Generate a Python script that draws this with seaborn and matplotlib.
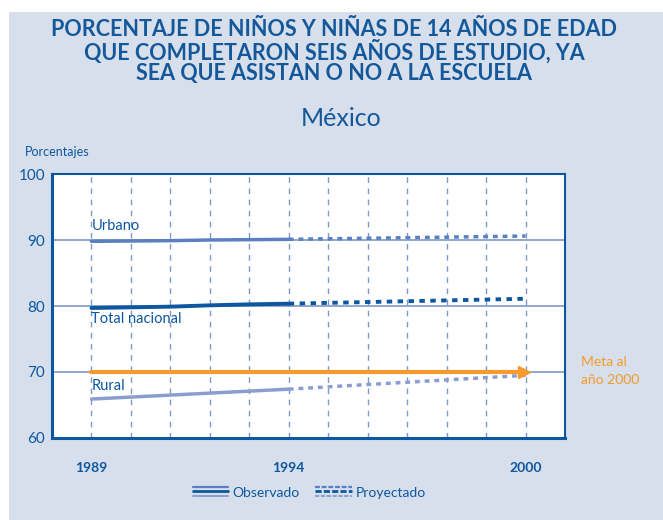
import matplotlib
matplotlib.use("Agg")
import matplotlib.pyplot as plt
import seaborn as sns
import pandas as pd
from matplotlib.lines import Line2D
from matplotlib.patches import Rectangle
from matplotlib import font_manager

# ---- data ----
years_obs = [1989, 1990, 1991, 1992, 1993, 1994]
urbano_obs = [89.8, 89.85, 89.9, 90.0, 90.05, 90.1]
total_obs = [79.7, 79.8, 79.9, 80.1, 80.25, 80.35]
rural_obs = [65.9, 66.2, 66.5, 66.8, 67.1, 67.4]

years_proj = [1994, 2000]
urbano_proj = [90.1, 90.6]
total_proj = [80.35, 81.1]
rural_proj = [67.4, 69.5]

meta_years = [1989, 2000]
meta_values = [70, 70]

x_ticks = [1989, 1994, 2000]
y_ticks = [60, 70, 80, 90, 100]

DARK = "#0d57a0"
MED = "#5a80c2"
LIGHT = "#8a9fd0"
ORANGE = "#f59a2c"
BG = "#d6dfeb"
GRID = "#7e98c9"

sns.set_theme(style="white")
plt.rcParams["font.family"] = ["Lato", "DejaVu Sans"]

names = {f.name for f in font_manager.fontManager.ttflist}
narrow = "Liberation Sans Narrow" if "Liberation Sans Narrow" in names else "Lato"

fig = plt.figure(figsize=(6.63, 5.2), dpi=100)
fig.patch.set_facecolor("white")
fig.add_artist(Rectangle((9 / 663, 0), 1, 1 - 12 / 520, transform=fig.transFigure,
                         facecolor=BG, edgecolor="none", zorder=-10))

ax = fig.add_axes([52 / 663, 1 - 438 / 520, (565 - 52) / 663, (438 - 174) / 520])
ax.set_facecolor("white")

# grid
for yr in range(1989, 2001):
    ax.axvline(yr, color=GRID, lw=1, ls=(0, (4, 4)), zorder=1)
for yv in [70, 80, 90]:
    ax.axhline(yv, color=GRID, lw=1.2, zorder=1)

def df(x, y):
    return pd.DataFrame({"x": x, "y": y})

sns.lineplot(data=df(years_obs, urbano_obs), x="x", y="y", ax=ax, color=MED, lw=2.5, zorder=3)
sns.lineplot(data=df(years_obs, total_obs), x="x", y="y", ax=ax, color=DARK, lw=2.8, zorder=3)
sns.lineplot(data=df(years_obs, rural_obs), x="x", y="y", ax=ax, color=LIGHT, lw=2.5, zorder=3)
sns.lineplot(data=df(years_proj, urbano_proj), x="x", y="y", ax=ax, color=MED, lw=2.5,
             zorder=3).lines[-1].set_linestyle((0, (1.4, 1.4)))
sns.lineplot(data=df(years_proj, total_proj), x="x", y="y", ax=ax, color=DARK, lw=2.8,
             zorder=3).lines[-1].set_linestyle((0, (1.4, 1.4)))
sns.lineplot(data=df(years_proj, rural_proj), x="x", y="y", ax=ax, color=LIGHT, lw=2.5,
             zorder=3).lines[-1].set_linestyle((0, (1.4, 1.4)))
sns.lineplot(data=df(meta_years, meta_values), x="x", y="y", ax=ax, color=ORANGE, lw=3, zorder=4)
ax.plot([meta_years[-1] - 0.05], [meta_values[-1]], marker=">", color=ORANGE, ms=9, zorder=5)

ax.set_xlim(1988, 2001)
ax.set_ylim(60, 100)
ax.set_xticks(x_ticks)
ax.set_xticklabels([str(t) for t in x_ticks], color=DARK, fontsize=10, fontweight="bold")
ax.set_yticks(y_ticks)
ax.set_yticklabels([str(t) for t in y_ticks], color=DARK, fontsize=11)
ax.tick_params(axis="x", length=0, pad=17)
ax.tick_params(axis="y", length=0, pad=5)
ax.set_xlabel("")
ax.set_ylabel("")
for name, sp in ax.spines.items():
    sp.set_color(DARK)
    sp.set_linewidth(2.2 if name in ("left", "bottom") else 1.5)

# in-plot labels
ax.text(years_obs[0], urbano_obs[0] + 1.2, "Urbano", color=DARK, fontsize=10.5, va="bottom", ha="left")
ax.text(years_obs[0], total_obs[0] - 0.6, "Total nacional", color=DARK, fontsize=10.5, va="top", ha="left")
ax.text(years_obs[0], rural_obs[0] + 0.9, "Rural", color=DARK, fontsize=10.5, va="bottom", ha="left")

# titles
title = ["PORCENTAJE DE NIÑOS Y NIÑAS DE 14 AÑOS DE EDAD",
         "QUE COMPLETARON SEIS AÑOS DE ESTUDIO, YA",
         "SEA QUE ASISTAN O NO A LA ESCUELA"]
for i, t in enumerate(title):
    fig.text(334 / 663, 1 - (29 + 22.5 * i) / 520, t, ha="center", va="center",
             color="#14589a", fontsize=15.5, fontweight="bold", family=[narrow, "DejaVu Sans"])
fig.text(341 / 663, 1 - 118 / 520, "México", ha="center", va="center", color="#14589a",
         fontsize=18, family=[narrow, "DejaVu Sans"])
fig.text(25 / 663, 1 - 152 / 520, "Porcentajes", ha="left", va="center", color=DARK, fontsize=9)
fig.text(581 / 663, 1 - 362 / 520, "Meta al", ha="left", va="center", color=ORANGE, fontsize=10)
fig.text(581 / 663, 1 - 380 / 520, "año 2000", ha="left", va="center", color=ORANGE, fontsize=10)

# legend
def leg(x0, x1, yy, col, lw, ls):
    fig.add_artist(Line2D([x0 / 663, x1 / 663], [1 - yy / 520, 1 - yy / 520],
                          transform=fig.transFigure, color=col, lw=lw, ls=ls))

for (x0, x1, ls) in [(193, 228, "-"), (315, 352, (0, (2.2, 0.8)))]:
    leg(x0, x1, 486.5, MED, 1.6, ls)
    leg(x0, x1, 491, DARK, 2.0, ls)
    leg(x0, x1, 495.5, LIGHT, 1.4, ls)
fig.text(232 / 663, 1 - 493 / 520, "Observado", ha="left", va="center", color=DARK, fontsize=10)
fig.text(356 / 663, 1 - 493 / 520, "Proyectado", ha="left", va="center", color=DARK, fontsize=10)

fig.savefig("out.png", dpi=100, facecolor=fig.get_facecolor())
